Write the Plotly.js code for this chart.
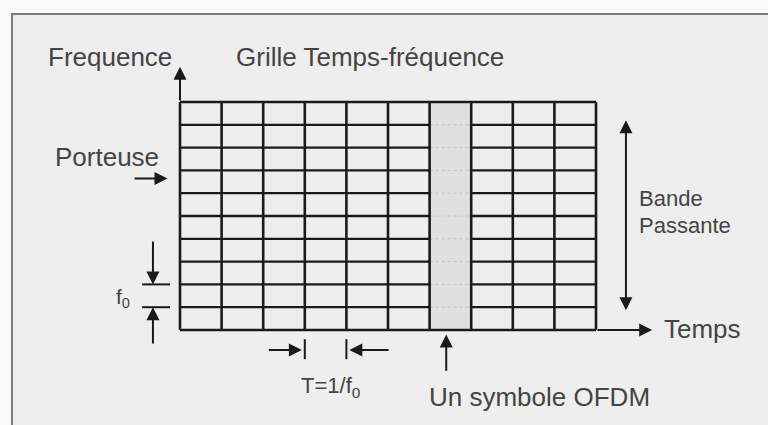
<!DOCTYPE html>
<html>
<head>
<meta charset="utf-8">
<script src="https://cdn.plot.ly/plotly-3.0.1.min.js"></script>
<style>html,body{margin:0;padding:0;background:#fafafa;}#chart{width:768px;height:425px;}</style>
</head>
<body>
<div id="chart"></div>
<script>
// ---- data (grid units: time slots on x, subcarriers on y) ----
const timeEdges = [0,1,2,3,4,5,6,7,8,9,10];
const freqEdges = [0,1,2,3,4,5,6,7,8,9,10];
const ofdmSymbol = [6,7];          // highlighted time slot (one OFDM symbol)
const carrierLevel = 6.65;         // "Porteuse" arrow level
const spacingF0 = [1,2];           // subcarrier spacing f0
const periodT = [3,4];             // symbol period T = 1/f0
const bandwidth = [0.8, 9.2];      // "Bande Passante" arrow extent
const labels = {
  freqAxis: 'Frequence',
  title: 'Grille Temps-fréquence',
  carrier: 'Porteuse',
  timeAxis: 'Temps',
  band1: 'Bande',
  band2: 'Passante',
  f0: 'f<sub>0</sub>',
  period: 'T=1/f<sub>0</sub>',
  symbol: 'Un symbole OFDM'
};

const tMin = timeEdges[0], tMax = timeEdges[timeEdges.length-1];
const fMin = freqEdges[0], fMax = freqEdges[freqEdges.length-1];
const ink = '#1a1a1a';
const txt = '#444444';
const FONT = '"Liberation Sans", Arial, sans-serif';

const traces = [];
// highlighted OFDM symbol column
traces.push({
  x: [ofdmSymbol[0], ofdmSymbol[1], ofdmSymbol[1], ofdmSymbol[0], ofdmSymbol[0]],
  y: [fMin, fMin, fMax, fMax, fMin],
  mode: 'lines', fill: 'toself', fillcolor: '#e0e0e0',
  line: {width: 0}, hoverinfo: 'skip', showlegend: false
});
// faint lines inside the highlighted column
const fx = [], fy = [];
freqEdges.slice(1, -1).forEach(f => { fx.push(ofdmSymbol[0], ofdmSymbol[1], null); fy.push(f, f, null); });
traces.push({x: fx, y: fy, mode: 'lines', line: {color: '#c4c4c4', width: 1, dash: 'dot'}, hoverinfo: 'skip', showlegend: false});
// horizontal grid lines
const hx = [], hy = [];
freqEdges.forEach(f => {
  if (f === fMin || f === fMax) { hx.push(tMin, tMax, null); hy.push(f, f, null); }
  else {
    hx.push(tMin, ofdmSymbol[0], null); hy.push(f, f, null);
    hx.push(ofdmSymbol[1], tMax, null); hy.push(f, f, null);
  }
});
traces.push({x: hx, y: hy, mode: 'lines', line: {color: ink, width: 2.3}, hoverinfo: 'skip', showlegend: false});
// vertical grid lines
const vx = [], vy = [];
timeEdges.forEach(t => { vx.push(t, t, null); vy.push(fMin, fMax, null); });
traces.push({x: vx, y: vy, mode: 'lines', line: {color: ink, width: 2.6}, hoverinfo: 'skip', showlegend: false});
// f0 tick marks
const kx = [], ky = [];
spacingF0.forEach(f => { kx.push(-0.91, -0.24, null); ky.push(f, f, null); });
// T tick marks
periodT.forEach(t => { kx.push(t, t, null); ky.push(-0.4, -1.28, null); });
traces.push({x: kx, y: ky, mode: 'lines', line: {color: ink, width: 2}, hoverinfo: 'skip', showlegend: false});

function arrow(x, y, ax, ay, extra) {
  return Object.assign({
    x: x, y: y, ax: ax, ay: ay, xref: 'x', yref: 'y', axref: 'x', ayref: 'y',
    text: '', showarrow: true, arrowhead: 2, arrowsize: 1.3, arrowwidth: 2, arrowcolor: ink, standoff: 0
  }, extra || {});
}
function label(x, y, text, size, xanchor) {
  return {x: x, y: y, xref: 'x', yref: 'y', text: text, showarrow: false,
    xanchor: xanchor || 'left', yanchor: 'middle', font: {family: FONT, size: size, color: txt}};
}

const annotations = [
  // axes arrows
  arrow(tMin, fMax + 1.55, tMin, fMax),
  arrow(tMax + 1.35, fMin, tMax, fMin),
  // porteuse
  arrow(-0.3, carrierLevel, -1.13, carrierLevel),
  // f0 arrows
  arrow(-0.65, spacingF0[1], -0.65, spacingF0[1] + 1.95),
  arrow(-0.65, spacingF0[0], -0.65, spacingF0[0] - 1.66),
  // T arrows
  arrow(periodT[0] - 0.07, -0.88, periodT[0] - 0.9, -0.88),
  arrow(periodT[1] + 0.07, -0.88, periodT[1] + 1.05, -0.88),
  // OFDM symbol arrow
  arrow(6.4, -0.2, 6.4, -1.85),
  // bande passante double arrow
  arrow(10.72, bandwidth[1], 10.72, bandwidth[0], {arrowside: 'end+start'}),
  // labels
  label(-0.15, 11.97, labels.freqAxis, 26, 'right'),
  label(1.3, 11.97, labels.title, 26),
  label(-3.05, 7.6, labels.carrier, 26),
  label(11.58, 0.05, labels.timeAxis, 26),
  label(10.98, 5.75, labels.band1, 22),
  label(10.98, 4.6, labels.band2, 22),
  label(-1.58, 1.4, labels.f0, 21),
  label(2.85, -2.5, labels.period, 22),
  label(5.93, -2.95, labels.symbol, 26)
];

const xr = [-180/41.6, 588/41.6];
const yr = [-95/22.8, 330/22.8];

const layout = {
  width: 768, height: 425,
  margin: {l: 0, r: 0, t: 0, b: 0},
  paper_bgcolor: '#f9f9f9', plot_bgcolor: 'rgba(0,0,0,0)',
  xaxis: {range: xr, visible: false, fixedrange: true},
  yaxis: {range: yr, visible: false, fixedrange: true},
  showlegend: false,
  shapes: [{type: 'rect', xref: 'paper', yref: 'paper', x0: 12/768, x1: 1.02, y0: -0.02, y1: 1 - 14/425,
    line: {color: '#7a7a7a', width: 2}, fillcolor: '#eeeeee', layer: 'below'}],
  annotations: annotations
};

Plotly.newPlot('chart', traces, layout, {staticPlot: true, displayModeBar: false});
</script>
</body>
</html>
